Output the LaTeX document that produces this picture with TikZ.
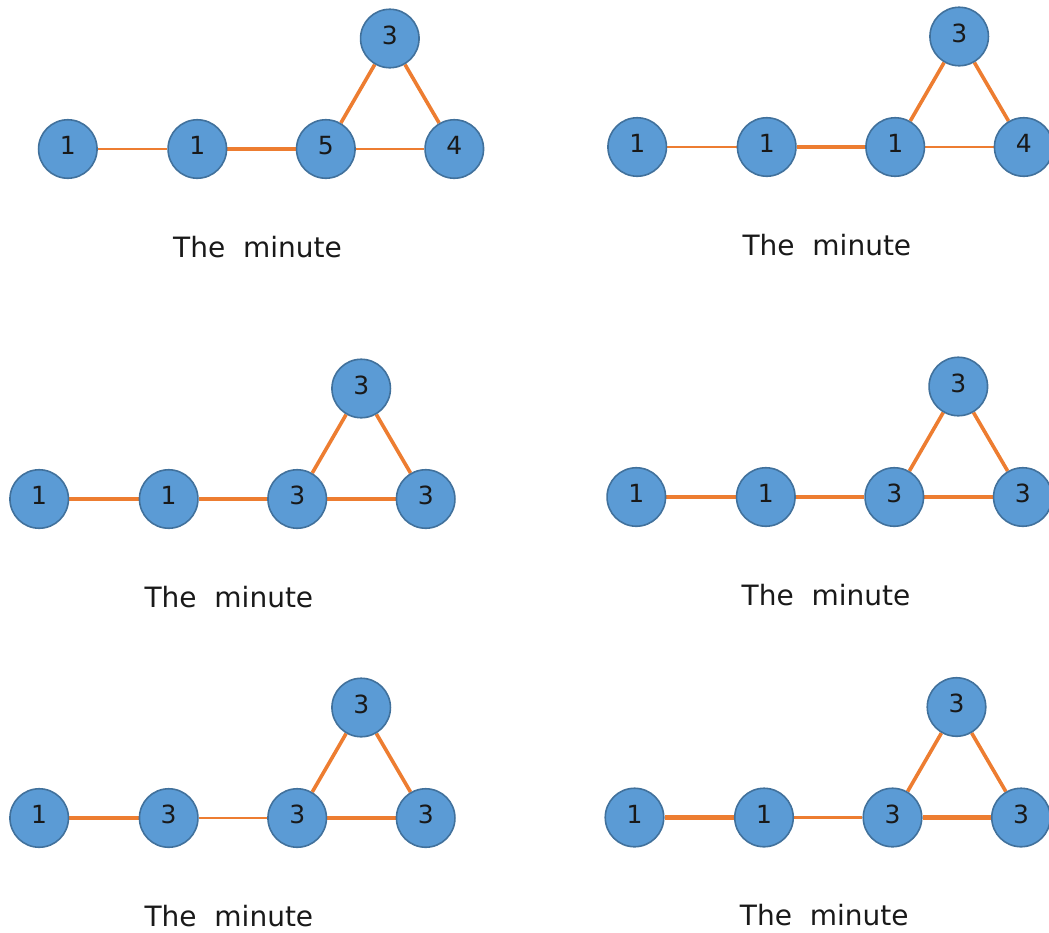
\documentclass[tikz,border=0pt]{standalone}
\usepackage{fontspec}
\setmainfont{DejaVu Sans}
\usetikzlibrary{backgrounds}
\definecolor{nodefill}{HTML}{5B9BD5}
\definecolor{nodeline}{HTML}{41719C}
\definecolor{edgecol}{HTML}{ED7D31}
\tikzset{
  vtx/.style={circle, fill=nodefill, draw=nodeline, line width=1.6pt,
    minimum size=58.5pt, inner sep=0pt, text=black!90,
    font=\fontsize{25}{25}\selectfont},
  lbl/.style={font=\fontsize{28}{30}\selectfont, text=black!90, inner sep=0pt},
  link/.style={draw=edgecol, line width=#1},
}
% vertices of one graph: #1 origin (left vertex), #2 name prefix, #3..#7 labels
\newcommand{\graphnodes}[7]{%
  \begin{scope}[shift={(#1)}]
    \node[vtx] (#2a) at (0,0)      {\raisebox{7pt}{#3}};
    \node[vtx] (#2b) at (129.5,0)  {\raisebox{7pt}{#4}};
    \node[vtx] (#2c) at (258,0)    {\raisebox{7pt}{#5}};
    \node[vtx] (#2d) at (386.5,0)  {\raisebox{7pt}{#6}};
    \node[vtx] (#2e) at (322,-110.5) {\raisebox{7pt}{#7}};
    \node[lbl] (#2t) at (189.7,98) {The\ \ minute};
  \end{scope}}
% edges of one graph: #1 prefix, #2..#6 widths
\newcommand{\graphedges}[6]{%
  \begin{scope}[on background layer]
    \draw[link=#2] (#1a) -- (#1b);
    \draw[link=#3] (#1b) -- (#1c);
    \draw[link=#4] (#1c) -- (#1d);
    \draw[link=#5] (#1c) -- (#1e);
    \draw[link=#6] (#1e) -- (#1d);
  \end{scope}}
\begin{document}
\begin{tikzpicture}[x=1pt,y=-1pt]
\useasboundingbox (0,0) rectangle (1049,932);
\clip (0,0) rectangle (1049,932);

% top row
\graphnodes{67.8,149}{pA}{1}{1}{5}{4}{3}
\graphedges{pA}{2.8pt}{4.4pt}{2.8pt}{3.6pt}{3.6pt}
\graphnodes{637.2,147}{pB}{1}{1}{1}{4}{3}
\graphedges{pB}{2.8pt}{4.4pt}{2.8pt}{3.6pt}{3.6pt}

% middle row
\graphnodes{39.2,499}{pC}{1}{1}{3}{3}{3}
\graphedges{pC}{4.8pt}{4.2pt}{4.8pt}{3.6pt}{3.6pt}
\graphnodes{636.3,497}{pD}{1}{1}{3}{3}{3}
\graphedges{pD}{4.8pt}{4.2pt}{4.8pt}{3.6pt}{3.6pt}

% bottom row
\graphnodes{39.2,818}{pE}{1}{3}{3}{3}{3}
\graphedges{pE}{4.8pt}{2.6pt}{4.8pt}{3.6pt}{3.6pt}
\graphnodes{634.5,817.5}{pF}{1}{1}{3}{3}{3}
\graphedges{pF}{4.8pt}{2.6pt}{4.8pt}{3.6pt}{3.6pt}

\end{tikzpicture}
\end{document}
